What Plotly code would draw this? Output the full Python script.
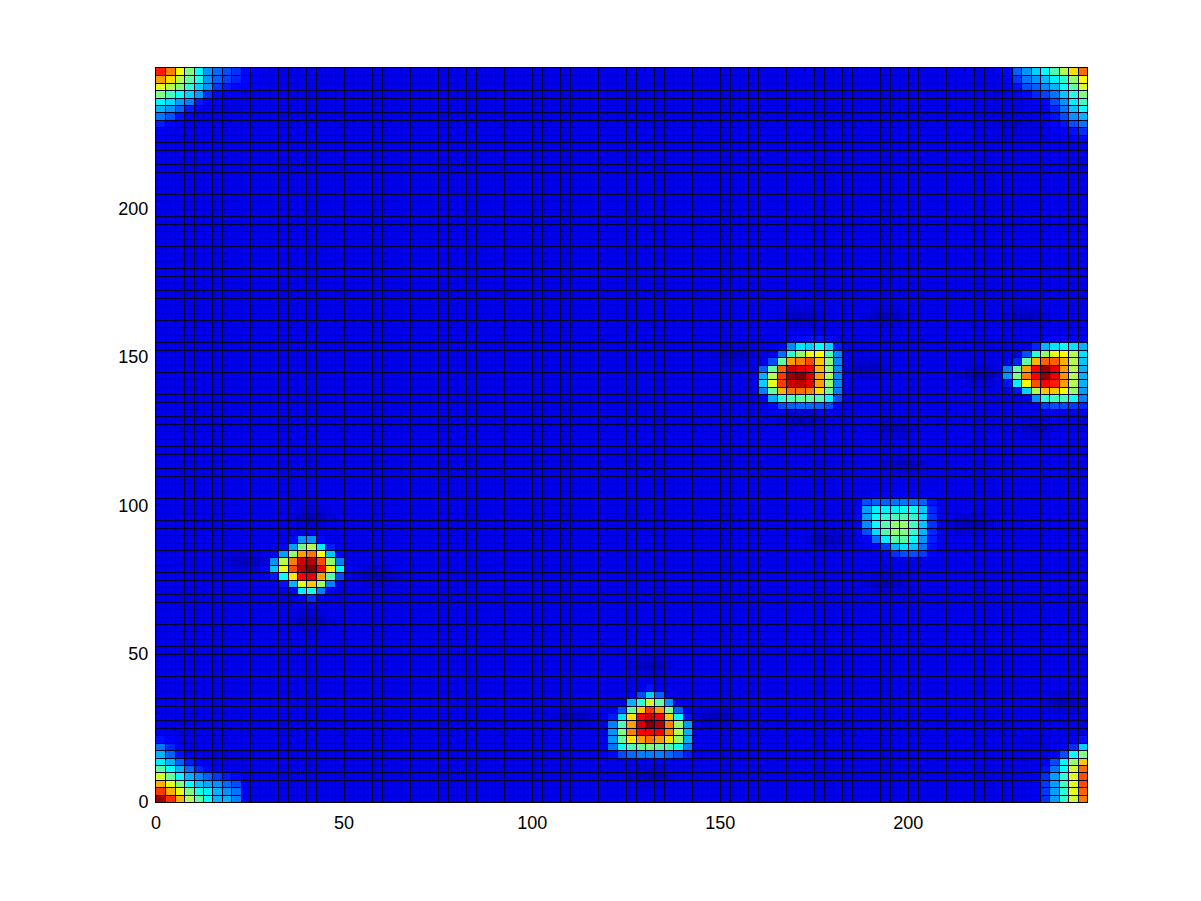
import plotly.graph_objects as go

STEP = 2.5
N_COLS = 99
N_ROWS = 99
BACKGROUND = 0.10
X_TICKS = [0, 50, 100, 150, 200]
Y_TICKS = [0, 50, 100, 150, 200]

# Each patch: first column, top row (row 0 is at the bottom), values read top to bottom.
CORNER_TL = (0, 98, [
    [.85, .75, .62, .50, .38, .27, .23, .20, .17, .13, .12],
    [.72, .66, .55, .47, .40, .27, .22, .19, .16, .13, .11],
    [.60, .55, .50, .42, .33, .27, .18, .15, .13, .12, .11],
    [.50, .44, .38, .33, .28, .17, .13, .12, .11, .10, .10],
    [.37, .34, .28, .25, .15, .12, .11, .10, .10, .10, .10],
    [.30, .27, .22, .15, .12, .11, .10, .09, .09, .10, .10],
    [.24, .20, .14, .11, .10, .10, .10, .10, .10, .10, .10],
    [.15, .12, .11, .10],
    [.11, .10],
])
CORNER_TR = (89, 98, [
    [.11, .13, .22, .27, .33, .38, .45, .55, .66, .77],
    [.10, .12, .18, .24, .27, .31, .36, .42, .52, .63],
    [.10, .11, .14, .20, .22, .26, .30, .38, .47, .58],
    [.09, .10, .11, .13, .16, .19, .24, .32, .41, .50],
    [.09, .09, .10, .10, .11, .12, .20, .27, .36, .44],
    [.09, .09, .09, .10, .10, .11, .16, .24, .32, .38],
    [.08, .08, .08, .09, .10, .11, .14, .20, .27, .30],
    [.08, .07, .07, .08, .09, .10, .12, .14, .20, .24],
    [.09, .08, .08, .09, .09, .09, .11, .12, .14, .17],
    [.09, .09, .09, .09, .09, .09, .10, .11, .12, .13],
])
CORNER_BL = (0, 9, [
    [.11, .10],
    [.14, .12, .10],
    [.24, .16, .11, .10],
    [.30, .22, .14, .11, .10, .09, .09, .09, .09, .09],
    [.36, .30, .22, .15, .12, .11, .10, .09, .09, .09],
    [.46, .38, .30, .23, .16, .13, .11, .11, .10, .09],
    [.58, .47, .37, .30, .26, .22, .18, .15, .13, .10],
    [.70, .60, .50, .38, .32, .29, .27, .23, .20, .11],
    [.82, .70, .60, .50, .40, .36, .30, .27, .24, .11],
    [.97, .83, .70, .55, .47, .38, .30, .30, .25, .11],
])
CORNER_BR = (92, 8, [
    [.08, .09, .09, .10, .10, .11, .14],
    [.09, .09, .09, .10, .12, .17, .33],
    [.09, .09, .10, .12, .20, .38, .50],
    [.09, .10, .12, .20, .37, .52, .68],
    [.09, .11, .14, .24, .38, .58, .77],
    [.10, .11, .17, .28, .42, .60, .80],
    [.10, .11, .18, .28, .44, .60, .80],
    [.10, .11, .18, .28, .42, .60, .78],
    [.10, .11, .17, .28, .42, .58, .76],
])
BLOB_A = (11, 36, [
    [None, None, None, None, .10, .11, .10],
    [None, None, None, .13, .27, .27, .13],
    [None, None, .13, .28, .50, .55, .36, .15],
    [None, .12, .28, .52, .72, .76, .62, .32, .13],
    [None, .27, .55, .75, .92, .95, .80, .52, .25],
    [.11, .32, .60, .80, .95, 1.0, .88, .65, .37, .12],
    [None, .15, .38, .65, .88, .90, .72, .46, .20],
    [None, None, .14, .30, .60, .68, .53, .25],
    [None, None, None, .13, .36, .40, .25, .12],
    [None, None, None, None, .12, .17, .11],
])
BLOB_B = (48, 15, [
    [None, None, None, None, .14],
    [None, None, .12, .20, .33, .22],
    [None, None, .30, .42, .58, .47, .27],
    [None, .20, .47, .68, .82, .72, .50, .22],
    [.15, .35, .65, .88, .92, .88, .68, .38, .14],
    [.25, .45, .72, .92, 1.0, .95, .75, .52, .28],
    [.27, .50, .75, .88, .88, .88, .75, .55, .30],
    [.27, .47, .65, .72, .76, .72, .66, .52, .30],
    [.24, .38, .45, .48, .50, .47, .45, .40, .25],
    [.13, .20, .23, .25, .25, .25, .23, .20, .15],
])
BLOB_C = (64, 62, [
    [None, None, None, .12, .13, .14, .14, .13, None],
    [None, None, .13, .26, .35, .33, .38, .33, .15],
    [None, None, .23, .42, .52, .60, .62, .45, .26],
    [None, .20, .47, .72, .75, .80, .68, .52, .26],
    [.22, .47, .78, .92, .90, .88, .70, .52, .26],
    [.30, .55, .82, .97, 1.0, .92, .72, .55, .26],
    [.33, .60, .82, .92, .94, .90, .72, .52, .26],
    [.25, .47, .70, .77, .77, .75, .66, .48, .25],
    [.13, .30, .42, .45, .47, .47, .45, .37, .20],
    [None, .13, .20, .22, .23, .23, .22, .20, .13],
])
BLOB_D = (74, 41, [
    [None, None, .12, .12, .12, .12, .12, .11, .11],
    [.11, .20, .22, .22, .24, .24, .24, .22, .14],
    [.12, .28, .36, .36, .36, .38, .38, .32, .16],
    [.12, .28, .38, .42, .45, .45, .42, .34, .17],
    [.12, .26, .38, .46, .52, .52, .44, .32, .17],
    [.11, .20, .34, .45, .52, .50, .42, .30, .16],
    [None, .11, .23, .36, .46, .46, .38, .27, .15],
    [None, None, .12, .18, .30, .35, .32, .24, .14],
    [None, None, None, .11, .17, .20, .20, .18, .12],
])
BLOB_E = (90, 62, [
    [None, None, None, None, .11, .12, .12, .12, .12],
    [None, None, None, .16, .30, .35, .38, .35, .30],
    [None, None, .20, .42, .52, .60, .63, .55, .35],
    [None, .16, .47, .70, .78, .78, .70, .55, .32],
    [.25, .47, .72, .88, .97, .90, .72, .55, .30],
    [.27, .50, .75, .88, .98, .90, .73, .55, .30],
    [.14, .36, .62, .80, .88, .85, .72, .55, .30],
    [None, .14, .33, .55, .68, .68, .62, .52, .28],
    [None, None, None, .27, .42, .44, .44, .38, .25],
    [None, None, None, None, .18, .20, .20, .18, .16],
])
PATCHES = [CORNER_TL, CORNER_TR, CORNER_BL, CORNER_BR, BLOB_A, BLOB_B, BLOB_C, BLOB_D, BLOB_E]

# Darker spots in the background: column, row.
DARK_COLS = [61, 68, 77, 75, 68, 78, 92, 93, 92, 87, 52, 44, 59, 52, 16, 9, 23, 16, 71, 86, 77, 79, 96]
DARK_ROWS = [60, 65, 65, 58, 51, 50, 65, 50, 92, 57, 18, 11, 11, 3, 38, 32, 30, 24, 35, 37, 29, 45, 13]
DARK_LEVELS = [
    [None, .08, .08, .08, None],
    [.08, .06, .05, .06, .08],
    [None, .08, .08, .08, None],
]

z = [[BACKGROUND] * N_COLS for _ in range(N_ROWS)]
for col, row in zip(DARK_COLS, DARK_ROWS):
    for i, line in enumerate(DARK_LEVELS):
        for j, v in enumerate(line):
            if v is not None:
                z[row + 1 - i][col - 2 + j] = v
for col0, top, rows in PATCHES:
    for i, line in enumerate(rows):
        for j, v in enumerate(line):
            if v is not None:
                z[top - i][col0 + j] = v

JET = [[0, "rgb(0,0,143)"], [.125, "rgb(0,0,255)"], [.375, "rgb(0,255,255)"],
       [.625, "rgb(255,255,0)"], [.875, "rgb(255,0,0)"], [1, "rgb(128,0,0)"]]

W, H = 1201, 901
LEFT, RIGHT, TOP, BOTTOM = 156, 1087, 68, 802
PLOT_W, PLOT_H = RIGHT - LEFT, BOTTOM - TOP
X_MAX, Y_MAX = N_COLS * STEP, N_ROWS * STEP

# Cell borders nudged onto whole screen pixels so every 1px line stays sharp and even.
x_edges = [(round(k * PLOT_W / N_COLS) + 0.5) * X_MAX / PLOT_W for k in range(1, N_COLS)]
y_edges = [(PLOT_H - round(k * PLOT_H / N_ROWS) - 0.5) * Y_MAX / PLOT_H for k in range(1, N_ROWS)]

grid_x, grid_y = [], []
for v in x_edges:
    grid_x += [v, v, None]
    grid_y += [0, Y_MAX, None]
for v in y_edges:
    grid_x += [0, X_MAX, None]
    grid_y += [v, v, None]

fig = go.Figure()
fig.add_trace(go.Heatmap(z=z, x0=STEP / 2, dx=STEP, y0=STEP / 2, dy=STEP, zmin=0, zmax=1,
                         colorscale=JET, showscale=False, hoverinfo="skip"))
fig.add_trace(go.Scatter(x=grid_x, y=grid_y, mode="lines", line=dict(color="rgb(0,0,40)", width=1),
                         showlegend=False, hoverinfo="skip"))

X_DOMAIN = [LEFT / W, RIGHT / W]
Y_DOMAIN = [(H - BOTTOM) / H, (H - TOP) / H]
axis = dict(showgrid=False, zeroline=False, showline=True, linecolor="black", linewidth=1,
            mirror=True, ticks="", automargin=False,
            tickfont=dict(family="Liberation Sans", size=18, color="black"))
fig.update_layout(
    width=W, height=H, margin=dict(l=0, r=0, t=0, b=0), paper_bgcolor="white",
    plot_bgcolor="white", showlegend=False,
    xaxis=dict(axis, range=[0, X_MAX], domain=X_DOMAIN, tickvals=X_TICKS, ticklabelstandoff=4),
    yaxis=dict(axis, range=[0, Y_MAX], domain=Y_DOMAIN, tickvals=Y_TICKS, ticklabelstandoff=3),
)
fig.write_html("out.html", config={"displayModeBar": False},
               post_script="document.body.style.margin='0';")
